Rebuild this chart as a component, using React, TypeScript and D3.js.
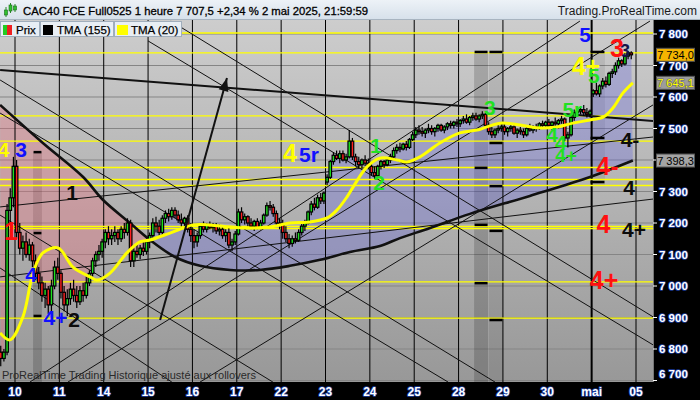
import React from "react";
import * as d3 from "d3";

const W = 700;
const H = 400;
const PLOT_RIGHT = 653;
const PLOT_TOP = 20;
const PLOT_BOTTOM = 382;

const dayLabels = ["10", "11", "14", "15", "16", "17", "22", "23", "24", "25", "28", "29", "30", "mai", "05"];
const BARS_PER_DAY = 14;
const FIRST_SLOT = -5; // last hours of 9 avril shown before the 10

const priceTicks = [6700, 6800, 6900, 7000, 7100, 7200, 7300, 7400, 7500, 7600, 7700, 7800];

// hourly candles [open, high, low, close]
const candles: [number, number, number, number][] = [
  // 9 avril
  [6790, 6810, 6745, 6770], [6770, 6800, 6760, 6790], [6790, 7260, 6780, 7240], [7240, 7310, 7200, 7280], [7280, 7410, 7250, 7380],
  // 10
  [7380, 7400, 7150, 7170], [7170, 7200, 7100, 7120], [7120, 7160, 7080, 7140], [7140, 7170, 7090, 7100], [7100, 7150, 7080, 7130], [7130, 7140, 7060, 7080], [7080, 7100, 7020, 7040],
  [7040, 7060, 6990, 7010], [7010, 7030, 6950, 6970], [6970, 7010, 6930, 6990], [6990, 7000, 6910, 6940], [6940, 7020, 6920, 7000], [7000, 7080, 6990, 7060], [7060, 7090, 7020, 7040],
  // 11
  [7040, 7050, 6960, 6980], [6980, 7000, 6920, 6940], [6940, 6990, 6905, 6960], [6960, 7010, 6940, 6990], [6990, 7020, 6950, 6970], [6970, 7000, 6930, 6950], [6950, 7000, 6940, 6985],
  [6985, 7010, 6950, 6970], [6970, 7030, 6960, 7010], [7010, 7050, 7000, 7040], [7040, 7090, 7030, 7080], [7080, 7110, 7060, 7100], [7100, 7130, 7080, 7110], [7110, 7150, 7090, 7140],
  // 14
  [7140, 7180, 7120, 7170], [7170, 7190, 7130, 7150], [7150, 7180, 7130, 7160], [7160, 7190, 7140, 7170], [7170, 7180, 7130, 7150], [7150, 7190, 7140, 7180], [7180, 7200, 7150, 7170],
  [7170, 7215, 7160, 7200], [7200, 7210, 7060, 7080], [7080, 7120, 7060, 7110], [7110, 7130, 7090, 7100], [7100, 7130, 7085, 7120], [7120, 7140, 7095, 7110], [7110, 7150, 7100, 7140],
  // 15
  [7140, 7170, 7120, 7160], [7160, 7215, 7150, 7200], [7200, 7220, 7170, 7190], [7190, 7210, 7160, 7170], [7170, 7225, 7160, 7215], [7215, 7240, 7200, 7230], [7230, 7245, 7205, 7220],
  [7220, 7250, 7210, 7240], [7240, 7250, 7215, 7225], [7225, 7240, 7200, 7210], [7210, 7230, 7190, 7200], [7200, 7220, 7180, 7215], [7215, 7225, 7170, 7180], [7180, 7200, 7140, 7160],
  // 16
  [7160, 7180, 7120, 7140], [7140, 7170, 7125, 7160], [7160, 7200, 7150, 7190], [7190, 7205, 7170, 7180], [7180, 7200, 7170, 7195], [7195, 7205, 7180, 7185], [7185, 7200, 7170, 7190],
  [7190, 7200, 7165, 7175], [7175, 7195, 7160, 7180], [7180, 7190, 7150, 7160], [7160, 7180, 7140, 7170], [7170, 7185, 7120, 7130], [7130, 7150, 7110, 7140], [7140, 7175, 7130, 7165],
  // 17
  [7165, 7245, 7160, 7235], [7235, 7250, 7200, 7210], [7210, 7230, 7195, 7220], [7220, 7225, 7190, 7200], [7200, 7215, 7180, 7190], [7190, 7210, 7175, 7205], [7205, 7215, 7180, 7185],
  [7185, 7210, 7180, 7200], [7200, 7230, 7195, 7225], [7225, 7265, 7220, 7255], [7255, 7270, 7240, 7250], [7250, 7260, 7220, 7230], [7230, 7240, 7190, 7200], [7200, 7215, 7180, 7195],
  // 22
  [7195, 7210, 7150, 7170], [7170, 7190, 7140, 7150], [7150, 7165, 7120, 7135], [7135, 7160, 7125, 7150], [7150, 7170, 7135, 7145], [7145, 7180, 7140, 7170], [7170, 7200, 7160, 7190],
  [7190, 7210, 7175, 7200], [7200, 7240, 7195, 7235], [7235, 7270, 7225, 7260], [7260, 7280, 7240, 7250], [7250, 7290, 7245, 7280], [7280, 7295, 7260, 7270], [7270, 7300, 7260, 7295],
  // 23
  [7330, 7355, 7320, 7345], [7345, 7400, 7340, 7395], [7395, 7425, 7385, 7415], [7415, 7430, 7400, 7405], [7405, 7430, 7390, 7420], [7420, 7430, 7395, 7400], [7400, 7420, 7390, 7410],
  [7410, 7495, 7405, 7460], [7460, 7470, 7400, 7410], [7410, 7420, 7380, 7395], [7395, 7410, 7375, 7385], [7385, 7405, 7375, 7400], [7400, 7415, 7380, 7390], [7390, 7405, 7370, 7380],
  // 24
  [7380, 7390, 7350, 7360], [7360, 7380, 7340, 7350], [7350, 7385, 7345, 7380], [7380, 7400, 7370, 7395], [7395, 7400, 7375, 7385], [7385, 7405, 7380, 7400], [7400, 7420, 7390, 7410],
  [7410, 7440, 7405, 7430], [7430, 7450, 7420, 7440], [7440, 7455, 7425, 7435], [7435, 7455, 7430, 7450], [7450, 7460, 7430, 7440], [7440, 7470, 7435, 7465], [7465, 7490, 7460, 7480],
  // 25
  [7480, 7505, 7470, 7495], [7495, 7510, 7480, 7490], [7490, 7505, 7475, 7485], [7485, 7500, 7470, 7495], [7495, 7515, 7485, 7500], [7500, 7510, 7480, 7490], [7490, 7505, 7475, 7500],
  [7500, 7515, 7490, 7510], [7510, 7515, 7490, 7495], [7495, 7510, 7485, 7505], [7505, 7520, 7495, 7515], [7515, 7525, 7500, 7510], [7510, 7525, 7500, 7520], [7520, 7530, 7505, 7515],
  // 28
  [7515, 7530, 7505, 7525], [7525, 7540, 7515, 7530], [7530, 7545, 7515, 7520], [7520, 7540, 7510, 7535], [7535, 7550, 7525, 7540], [7540, 7550, 7525, 7530], [7530, 7545, 7520, 7540],
  [7540, 7555, 7530, 7545], [7545, 7550, 7500, 7510], [7510, 7520, 7480, 7490], [7490, 7505, 7470, 7480], [7480, 7500, 7470, 7495], [7495, 7510, 7485, 7500], [7500, 7515, 7490, 7505],
  // 29
  [7505, 7520, 7480, 7490], [7490, 7505, 7475, 7500], [7500, 7515, 7490, 7505], [7505, 7510, 7480, 7485], [7485, 7500, 7470, 7495], [7495, 7505, 7480, 7490], [7490, 7500, 7470, 7480],
  [7480, 7505, 7475, 7500], [7500, 7515, 7490, 7495], [7495, 7510, 7485, 7505], [7505, 7515, 7490, 7500], [7500, 7520, 7495, 7515], [7515, 7525, 7500, 7510], [7510, 7525, 7500, 7520],
  // 30
  [7520, 7530, 7500, 7510], [7510, 7525, 7495, 7520], [7520, 7535, 7505, 7515], [7515, 7530, 7500, 7525], [7525, 7540, 7515, 7530], [7530, 7535, 7460, 7470], [7470, 7490, 7440, 7480],
  [7480, 7540, 7475, 7535], [7535, 7560, 7525, 7550], [7550, 7570, 7540, 7555], [7555, 7570, 7545, 7560], [7560, 7575, 7540, 7550], [7550, 7565, 7535, 7545], [7545, 7560, 7535, 7555],
  // 2 mai
  [7610, 7625, 7600, 7620], [7620, 7645, 7605, 7610], [7610, 7640, 7600, 7635], [7635, 7660, 7625, 7650], [7650, 7665, 7630, 7640], [7640, 7680, 7635, 7675], [7675, 7690, 7660, 7680],
  [7680, 7710, 7670, 7700], [7700, 7725, 7690, 7715], [7715, 7720, 7695, 7705], [7705, 7740, 7700, 7730], [7730, 7745, 7720, 7740], [7740, 7745, 7720, 7734],
];

// TMA (20) [slot, price]
const tma20: [number, number][] = [
  [-4.7, 6851], [-1.6, 6829], [2.5, 6902], [5.7, 7041], [8.8, 7105], [13.6, 7121], [18.3, 7060], [23.7, 7029], [25.9, 7019],
  [30, 7041], [35.3, 7105], [39.4, 7140], [42.6, 7146], [48.9, 7168], [56.2, 7194], [61.5, 7194], [67.9, 7187], [74.2, 7184],
  [80.5, 7187], [86.8, 7200], [93.1, 7203], [98.5, 7216], [101.6, 7241], [104.8, 7283], [106.7, 7314], [111.1, 7378], [115.2, 7406],
  [120.6, 7400], [123.7, 7394], [127.8, 7410], [134.1, 7454], [140.4, 7486], [145.8, 7495], [153.1, 7517], [159.4, 7511],
  [164.7, 7502], [171.1, 7505], [176.1, 7517], [181.5, 7527], [185.6, 7536], [188.7, 7565], [191.9, 7613], [195, 7645.1],
];

// TMA (155) [slot, price]
const tma155: [number, number][] = [
  [-4.7, 7575], [8.8, 7454], [21.5, 7346], [27.8, 7273], [36.3, 7200], [42.6, 7146], [50.5, 7092], [58.4, 7064], [67.9, 7051],
  [77.3, 7051], [86.8, 7064], [96.3, 7083], [105.7, 7108], [115.2, 7127], [121.5, 7152], [131, 7184], [143.6, 7229], [162.5, 7286],
  [181.5, 7346], [195, 7398.3],
];

const levels = [7803, 7740, 7540, 7460, 7376, 7338, 7319, 7189, 7182, 7013, 6898];

// thin trend lines [slot0, price0, slot1, price1]
const trendLines: [number, number, number, number][] = [
  [-4.7, 7654, 151.5, 6695],
  [-4.7, 7549, 136.7, 6695],
  [-4.7, 7225, 81.4, 6695],
  [-4.7, 7057, 49.5, 6695],
  [42.0, 7778, 201.4, 6813],
  [49.2, 7841, 201.4, 6902],
  [4.7, 6695, 178.3, 7841],
  [16.7, 6695, 200.4, 7841],
  [58.4, 6695, 201.4, 7575],
  [-4.7, 7251, 201.4, 7473],
  [-4.7, 7029, 201.4, 7276],
];
const mainTrend: [number, number, number, number] = [-4.7, 7686, 201.4, 7524];
const arrowLine: [number, number, number, number] = [45.8, 6892, 66.9, 7660];

// shaded zones [fromSlot, toSlot, topPrice, bottomPrice] and their marks
const zones: [number, number, number, number][] = [
  [5.7, 8.5, 7425, 6650],
  [144.9, 149.3, 7743, 6650],
  [149.6, 154.0, 7743, 6650],
  [181.5, 186.2, 7743, 7317],
];
const zoneMarks: number[][] = [
  [7425, 7168, 6905],
  [7743, 7375, 7194, 7009],
  [7743, 7454, 7317, 7175, 6892],
  [7743, 7470, 7330],
];

// wave counts [text, degree, slot, price]
const waveLabels: [string, string, number, number][] = [
  ["4", "yellowS", -3.6, 7410], ["3", "blue", 1.89, 7410], ["1", "black", 18.0, 7273], ["1", "red", -1.26, 7146],
  ["4", "blue", 5.05, 7013], ["4+", "blue", 12.78, 6876], ["2", "black", 18.62, 6870],
  ["4", "yellow", 86.79, 7394], ["5r", "blue", 92.79, 7394],
  ["1", "green", 113.9, 7422], ["2", "green", 114.9, 7305], ["3", "green", 149.9, 7543],
  ["5r", "green", 175.9, 7537], ["4", "green", 169.5, 7457], ["4", "green", 172.3, 7432], ["4+", "greenS", 173.9, 7394],
  ["5", "blue", 179.9, 7775], ["4+", "yellow", 180.2, 7670], ["5", "green", 182.7, 7644],
  ["3", "navy", 192.5, 7727], ["3", "red", 190.0, 7727], ["4-", "red", 187.0, 7352], ["4-", "black", 194.1, 7441],
  ["4", "black", 193.8, 7289], ["4", "red", 185.7, 7168], ["4+", "black", 195.4, 7156], ["4+", "red", 185.9, 6990],
];

const priceTags: [number, string][] = [
  [7734.0, "price"],
  [7645.1, "tma20"],
  [7398.3, "tma155"],
];

const degreeStyle: Record<string, { fill: string; size: number }> = {
  yellow: { fill: "#ffff00", size: 25 },
  yellowS: { fill: "#ffff00", size: 21 },
  blue: { fill: "#1010ff", size: 21 },
  green: { fill: "#22e022", size: 21 },
  greenS: { fill: "#22e022", size: 19 },
  red: { fill: "#ff1010", size: 25 },
  black: { fill: "#0c0c0c", size: 21 },
  navy: { fill: "#141448", size: 18 },
};

const tagStyle: Record<string, { bg: string; fg: string }> = {
  price: { bg: "#f4b400", fg: "#000" },
  tma20: { bg: "#9c9c9c", fg: "#ffff00" },
  tma155: { bg: "#a4a4a4", fg: "#000" },
};

const fr = d3.formatLocale({ decimal: ",", thousands: " ", grouping: [3], currency: ["", " €"] });
const fmtTick = fr.format(",.0f");
const fmtTag = fr.format(",.1f");

const FONT = "'Liberation Sans', Arial, sans-serif";

export default function App() {
  const x = d3.scaleLinear().domain([0, (dayLabels.length - 1) * BARS_PER_DAY]).range([15, 636]);
  const y = d3.scaleLinear().domain([6700, 7800]).range([380.5, 34]);

  const straight = d3.line();
  const smooth = d3.line().curve(d3.curveCatmullRom.alpha(0.5));

  const closePts: [number, number][] = candles.map((d, i) => [x(FIRST_SLOT + i + 0.5), y(d[3])]);
  const t155Px: [number, number][] = tma155.map(([s, p]) => [x(s), y(p)]);
  const t20Px: [number, number][] = tma20.map(([s, p]) => [x(s), y(p)]);

  // where price climbs above the long average
  const tmaAt = (s: number) => {
    for (let k = 1; k < tma155.length; k++) {
      if (s <= tma155[k][0]) {
        const [s0, p0] = tma155[k - 1];
        const [s1, p1] = tma155[k];
        return p0 + ((s - s0) / (s1 - s0)) * (p1 - p0);
      }
    }
    return tma155[tma155.length - 1][1];
  };
  let crossX = x(40);
  for (let i = 10; i < candles.length; i++) {
    const s = FIRST_SLOT + i + 0.5;
    if (candles[i][3] >= tmaAt(s)) {
      crossX = x(s);
      break;
    }
  }

  const cloud =
    (straight(closePts) || "") +
    (smooth(t155Px.slice().reverse()) || "").replace(/^M/, "L") +
    "Z";

  const seg = (l: [number, number, number, number]) => ({
    x1: x(l[0]),
    y1: y(l[1]),
    x2: x(l[2]),
    y2: y(l[3]),
  });

  const arr = seg(arrowLine);
  const ang = Math.atan2(arr.y2 - arr.y1, arr.x2 - arr.x1);
  const headL = 13;
  const headW = 5;
  const hb = [arr.x2 - headL * Math.cos(ang), arr.y2 - headL * Math.sin(ang)];
  const arrowHead = [
    [arr.x2, arr.y2],
    [hb[0] + headW * Math.sin(ang), hb[1] - headW * Math.cos(ang)],
    [hb[0] - headW * Math.sin(ang), hb[1] + headW * Math.cos(ang)],
  ]
    .map((p) => p.join(","))
    .join(" ");

  const outline = { paintOrder: "stroke" as const, stroke: "#1c3c9c", strokeWidth: 1.6, strokeLinejoin: "round" as const };

  // tick labels hidden behind a value tag
  const visibleTicks = priceTicks.filter((v) => priceTags.every(([t]) => Math.abs(y(t) - y(v)) > 8));

  return (
    <svg
      width={W}
      height={H}
      style={{ position: "fixed", left: 0, top: 0, display: "block", fontFamily: FONT }}
    >
      <defs>
        <linearGradient id="bg" x1="0" y1="0" x2="0" y2="1">
          <stop offset="0" stopColor="#cdcdcd" />
          <stop offset="1" stopColor="#989898" />
        </linearGradient>
        <linearGradient id="hdr" x1="0" y1="0" x2="0" y2="1">
          <stop offset="0" stopColor="#edf2f7" />
          <stop offset="1" stopColor="#d6e0ea" />
        </linearGradient>
        <clipPath id="plot">
          <rect x={0} y={PLOT_TOP} width={PLOT_RIGHT} height={PLOT_BOTTOM - PLOT_TOP} />
        </clipPath>
        <clipPath id="pinkSide">
          <rect x={0} y={PLOT_TOP} width={crossX} height={PLOT_BOTTOM - PLOT_TOP} />
        </clipPath>
        <clipPath id="blueSide">
          <rect x={crossX} y={PLOT_TOP} width={PLOT_RIGHT - crossX} height={PLOT_BOTTOM - PLOT_TOP} />
        </clipPath>
      </defs>

      <rect width={W} height={H} fill="#000" />
      <rect x={0} y={PLOT_TOP} width={PLOT_RIGHT} height={PLOT_BOTTOM - PLOT_TOP} fill="url(#bg)" />

      <g clipPath="url(#plot)">
        {priceTicks.map((v) => (
          <line key={v} x1={0} x2={PLOT_RIGHT} y1={y(v)} y2={y(v)} stroke="#858585" strokeWidth={1} />
        ))}

        {zones.map(([a, b, top, bot], i) => (
          <rect
            key={i}
            x={x(a)}
            y={y(top)}
            width={x(b) - x(a)}
            height={y(bot) - y(top)}
            fill="#000"
            opacity={i === 0 || i === 1 ? 0.17 : 0.08}
          />
        ))}

        <path d={cloud} fill="rgb(240,110,125)" opacity={0.34} clipPath="url(#pinkSide)" />
        <path d={cloud} fill="rgb(95,95,225)" opacity={0.3} clipPath="url(#blueSide)" />

        {dayLabels.map((d, i) => (
          <line
            key={d}
            x1={x(i * BARS_PER_DAY)}
            x2={x(i * BARS_PER_DAY)}
            y1={PLOT_TOP}
            y2={PLOT_BOTTOM}
            stroke="#000"
            strokeWidth={d === "mai" ? 2 : 1}
          />
        ))}

        {levels.map((v) => (
          <line key={v} x1={0} x2={PLOT_RIGHT} y1={y(v)} y2={y(v)} stroke="#ffff00" strokeWidth={1.4} />
        ))}

        {trendLines.map((l, i) => (
          <line key={i} {...seg(l)} stroke="#111" strokeWidth={1} />
        ))}
        <line {...seg(mainTrend)} stroke="#111" strokeWidth={2} />

        <path d={smooth(t155Px) || ""} fill="none" stroke="#111" strokeWidth={2.6} />

        {candles.map(([o, h, l, c], i) => {
          const cx = x(FIRST_SLOT + i + 0.5);
          const yt = y(Math.max(o, c));
          const yb = y(Math.min(o, c));
          return (
            <g key={i}>
              <line x1={cx} x2={cx} y1={y(h)} y2={y(l)} stroke="#000" strokeWidth={1.2} />
              <rect
                x={cx - 1.3}
                y={yt}
                width={2.6}
                height={Math.max(yb - yt, 1)}
                fill={c >= o ? "#1ee01e" : "#ff2020"}
                stroke="#000"
                strokeWidth={1.2}
              />
            </g>
          );
        })}

        <path d={smooth(t20Px) || ""} fill="none" stroke="#ffff00" strokeWidth={3} />

        <line {...arr} stroke="#111" strokeWidth={2} />
        <polygon points={arrowHead} fill="#111" />

        {zones.map(([a, b], i) =>
          zoneMarks[i].map((v) => (
            <line key={i + "-" + v} x1={x(a) + 0.5} x2={x(b) - 0.5} y1={y(v)} y2={y(v)} stroke="#000" strokeWidth={2.5} />
          ))
        )}

        {waveLabels.map(([t, deg, s, p], i) => (
          <text
            key={i}
            x={x(s)}
            y={y(p)}
            textAnchor="middle"
            fontWeight="bold"
            fontSize={degreeStyle[deg].size}
            fill={degreeStyle[deg].fill}
          >
            {t}
          </text>
        ))}

        <text x={2} y={379} fontSize={11} fill="#2a2a2a">
          ProRealTime Trading  Historique ajusté aux rollovers
        </text>
      </g>

      {/* title bar */}
      <rect x={0} y={0} width={W} height={PLOT_TOP} fill="url(#hdr)" />
      <line x1={0} x2={W} y1={PLOT_TOP - 0.5} y2={PLOT_TOP - 0.5} stroke="#a8b4c0" />
      <g>
        <line x1={6} x2={6} y1={7} y2={17} stroke="#2a8a2a" />
        <rect x={4.5} y={10} width={3} height={5} fill="#30c030" stroke="#1a6a1a" strokeWidth={0.6} />
        <line x1={10.5} x2={10.5} y1={3} y2={13} stroke="#2a8a2a" />
        <rect x={9} y={5} width={3} height={6} fill="#30c030" stroke="#1a6a1a" strokeWidth={0.6} />
        <line x1={15} x2={15} y1={4} y2={12} stroke="#2a8a2a" />
        <rect x={13.5} y={6} width={3} height={4} fill="#30c030" stroke="#1a6a1a" strokeWidth={0.6} />
      </g>
      <text x={23} y={15} fontSize={11.3} fill="#000" stroke="#000" strokeWidth={0.3}>
        CAC40 FCE Full0525 1 heure 7 707,5 +2,34 % 2 mai 2025, 21:59:59
      </text>
      <text x={697} y={15} fontSize={12} fill="#1a1a1a" textAnchor="end">
        Trading.ProRealTime.com
      </text>

      {/* legend */}
      <g fontSize={11.5} fill="#000">
        <rect x={0.5} y={21.5} width={39} height={15} fill="#e8eef4" stroke="#a0aebc" />
        <rect x={3} y={25} width={4} height={10} fill="#22cc22" />
        <rect x={7} y={25} width={5} height={10} fill="#ee2020" />
        <text x={16} y={33.5} stroke="#000" strokeWidth={0.25}>Prix</text>
        <rect x={40.5} y={21.5} width={73} height={15} fill="#e8eef4" stroke="#a0aebc" />
        <rect x={43} y={25} width={10} height={10} fill="#000" />
        <text x={57} y={33.5} stroke="#000" strokeWidth={0.25}>TMA (155)</text>
        <rect x={114.5} y={21.5} width={67} height={15} fill="#e8eef4" stroke="#a0aebc" />
        <rect x={117} y={25} width={11} height={10} fill="#ffff00" />
        <text x={131} y={33.5} stroke="#000" strokeWidth={0.25}>TMA (20)</text>
      </g>

      {/* right axis */}
      <line x1={PLOT_RIGHT + 0.5} x2={PLOT_RIGHT + 0.5} y1={PLOT_TOP} y2={PLOT_BOTTOM} stroke="#777" />
      {priceTicks.map((v) => (
        <line key={v} x1={PLOT_RIGHT} x2={PLOT_RIGHT + 4} y1={y(v)} y2={y(v)} stroke="#fff" />
      ))}
      {visibleTicks.map((v) => (
        <text
          key={v}
          x={659}
          y={Math.min(y(v) + 4, 378)}
          fontSize={11.5}
          fontWeight="bold"
          fill="#fff"
          style={outline}
        >
          {fmtTick(v)}
        </text>
      ))}
      {priceTags.map(([v, kind]) => (
        <g key={kind}>
          <rect x={656.5} y={y(v) - 6.5} width={38} height={13} fill={tagStyle[kind].bg} stroke="#555" strokeWidth={1} />
          <text
            x={675.5}
            y={y(v) + 4}
            textAnchor="middle"
            fontSize={11}
            fill={tagStyle[kind].fg}
            style={kind === "tma20" ? { paintOrder: "stroke", stroke: "#666", strokeWidth: 1.2 } : undefined}
          >
            {fmtTag(v)}
          </text>
        </g>
      ))}

      {/* bottom axis */}
      {dayLabels.map((d, i) => (
        <text
          key={d}
          x={x(i * BARS_PER_DAY)}
          y={396}
          textAnchor="middle"
          fontSize={12}
          fontWeight="bold"
          fill="#fff"
          style={outline}
        >
          {d}
        </text>
      ))}
    </svg>
  );
}
